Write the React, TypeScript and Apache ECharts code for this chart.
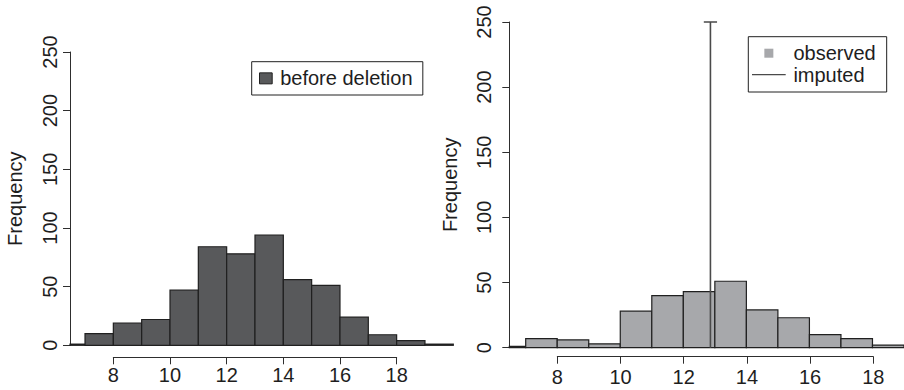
import React, { useEffect, useRef } from "react";
import * as echarts from "echarts";

// ---- data ----
const beforeBinStarts = [6, 7, 8, 9, 10, 11, 12, 13, 14, 15, 16, 17, 18, 19];
const beforeCounts = [1, 10, 19, 22, 47, 84, 78, 94, 56, 51, 24, 9, 4, 1];
const observedBinStarts = [6, 7, 8, 9, 10, 11, 12, 13, 14, 15, 16, 17, 18];
const observedCounts = [1, 7, 6, 3, 28, 40, 43, 51, 29, 23, 10, 7, 2];
const binWidth = 1;
const imputedValue = 12.86;
const imputedCount = 250;
const yTicks = { min: 0, max: 250, interval: 50 };
const xTicks = { min: 8, max: 18, interval: 2 };

const FONT = "'Liberation Sans', Arial, Helvetica, sans-serif";
const TXT = "#1e1e1e";
const AX = "#2e2e2e";
const DARK = "#58595b";
const LIGHT = "#a7a8ab";
const EDGE = "#202020";
const LINE = "#4a4a4a";
const capHalf = 0.21;

function histData(starts: number[], counts: number[]) {
  return starts.map((s, i) => [s, s + binWidth, counts[i]]);
}

function histRender(fill: string) {
  return (params: any, api: any) => {
    const x0 = api.value(0);
    const x1 = api.value(1);
    const v = api.value(2);
    const p0 = api.coord([x0, v]);
    const p1 = api.coord([x1, 0]);
    const cs = params.coordSys;
    const shape = echarts.graphic.clipRectByRect(
      { x: p0[0], y: p0[1], width: p1[0] - p0[0], height: p1[1] - p0[1] },
      { x: cs.x, y: cs.y, width: cs.width, height: cs.height }
    );
    if (!shape) return null;
    return {
      type: "rect",
      shape,
      style: { fill, stroke: EDGE, lineWidth: 1.2 },
    };
  };
}

function yAxisMain(gridIndex: number, margin: number, nameGap: number) {
  return {
    gridIndex,
    type: "value",
    min: yTicks.min,
    max: yTicks.max,
    interval: yTicks.interval,
    name: "Frequency",
    nameLocation: "middle",
    nameGap,
    nameTextStyle: { fontSize: 20, fontFamily: FONT, color: TXT },
    axisLine: { show: true, lineStyle: { color: AX, width: 1 } },
    axisTick: { show: true, length: 7, lineStyle: { color: AX, width: 1 } },
    axisLabel: { rotate: 90, margin, fontSize: 20, fontFamily: FONT, color: TXT },
    splitLine: { show: false },
  };
}

function xAxisTicks(gridIndex: number, margin: number) {
  return {
    gridIndex,
    type: "value",
    position: "bottom",
    min: xTicks.min,
    max: xTicks.max,
    interval: xTicks.interval,
    axisLine: { show: true, lineStyle: { color: AX, width: 1 } },
    axisTick: { show: true, length: 7, lineStyle: { color: AX, width: 1 } },
    axisLabel: { margin, fontSize: 20, fontFamily: FONT, color: TXT },
    splitLine: { show: false },
  };
}

export default function App() {
  const ref = useRef<HTMLDivElement>(null);
  useEffect(() => {
    if (!ref.current) return;
    const chart = echarts.init(ref.current, undefined, { renderer: "svg" });
    const option: any = {
      animation: false,
      backgroundColor: "#ffffff",
      textStyle: { fontFamily: FONT },
      grid: [
        { left: 70, top: 52, width: 383.3, height: 293.3 },
        { left: 113.3, top: 356.3, width: 283.4, height: 1 },
        { left: 509.3, top: 22, width: 395.6, height: 325.7 },
        { left: 557.3, top: 355.7, width: 316, height: 1 },
      ],
      xAxis: [
        { gridIndex: 0, type: "value", min: 6.47, max: 20, show: false },
        xAxisTicks(1, 8),
        { gridIndex: 2, type: "value", min: 6.48, max: 19, show: false },
        xAxisTicks(3, 10),
      ],
      yAxis: [
        yAxisMain(0, 10.5, 45.4),
        { gridIndex: 1, type: "value", show: false, min: 0, max: 1 },
        yAxisMain(2, 15, 49.4),
        { gridIndex: 3, type: "value", show: false, min: 0, max: 1 },
      ],
      legend: [
        {
          orient: "vertical",
          left: 251.7,
          top: 61.7,
          padding: [6.65, 10.3, 6.65, 7.3],
          itemWidth: 12.7,
          itemHeight: 11,
          borderColor: EDGE,
          borderWidth: 1,
          selectedMode: false,
          textStyle: { fontSize: 20, fontFamily: FONT, color: TXT, padding: [0, 0, 0, 3] },
          data: [
            {
              name: "before deletion",
              icon: "rect",
              itemStyle: { color: DARK, borderColor: EDGE, borderWidth: 1 },
            },
          ],
        },
        {
          orient: "vertical",
          left: 748.3,
          top: 36.7,
          padding: [6.5, 11, 7.3, 3.7],
          itemWidth: 33.7,
          itemHeight: 9,
          itemGap: 1.5,
          borderColor: EDGE,
          borderWidth: 1,
          selectedMode: false,
          textStyle: { fontSize: 20, fontFamily: FONT, color: TXT, padding: [0, 0, 0, 2.7] },
          data: [
            {
              name: "observed",
              icon: "path://M0,0M33.7,9M12.35,0h9v9h-9z",
              itemStyle: { color: LIGHT, borderWidth: 0 },
            },
            {
              name: "imputed",
              icon: "path://M0,0M33.7,9M0,3.85h33.7v1.3h-33.7z",
              itemStyle: { color: LINE, borderWidth: 0 },
            },
          ],
        },
      ],
      series: [
        {
          name: "before deletion",
          type: "custom",
          xAxisIndex: 0,
          yAxisIndex: 0,
          renderItem: histRender(DARK),
          encode: { x: [0, 1], y: 2 },
          itemStyle: { color: DARK, borderColor: EDGE, borderWidth: 1 },
          data: histData(beforeBinStarts, beforeCounts),
        },
        {
          name: "observed",
          type: "custom",
          xAxisIndex: 2,
          yAxisIndex: 2,
          renderItem: histRender(LIGHT),
          encode: { x: [0, 1], y: 2 },
          itemStyle: { color: LIGHT },
          data: histData(observedBinStarts, observedCounts),
        },
        {
          name: "imputed",
          type: "line",
          xAxisIndex: 2,
          yAxisIndex: 2,
          symbol: "none",
          showSymbol: false,
          clip: false,
          z: 5,
          lineStyle: { color: LINE, width: 1.6 },
          itemStyle: { color: LINE },
          data: [
            [imputedValue, 0],
            [imputedValue, imputedCount],
            [imputedValue - capHalf, imputedCount],
            [imputedValue + capHalf, imputedCount],
          ],
        },
      ],
    };
    chart.setOption(option);
    return () => chart.dispose();
  }, []);
  return (
    <div
      ref={ref}
      style={{ position: "absolute", left: 0, top: 0, width: 904, height: 390 }}
    />
  );
}
